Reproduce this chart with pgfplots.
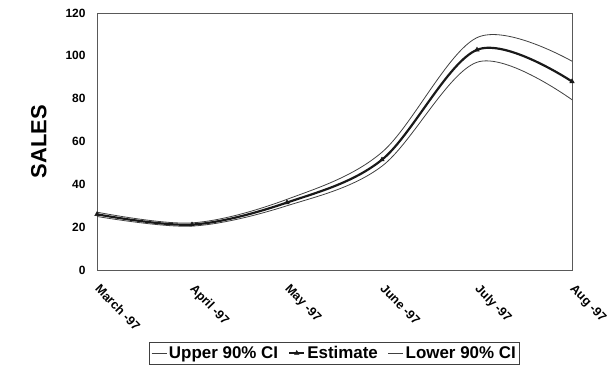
\documentclass[border=0pt]{standalone}
\usepackage{fontspec}
\setmainfont{Liberation Sans}
\usepackage{pgfplots}
\pgfplotsset{compat=1.18}
\begin{document}
\begin{tikzpicture}[x=1bp,y=1bp]
\begin{axis}[
  scale only axis,
  width=475bp, height=257bp,
  xmin=0, xmax=5, ymin=0, ymax=120,
  ytick={0,20,...,120},
  xtick={0,1,2,3,4,5},
  xticklabels={March -97,April -97,May -97,June -97,July -97,Aug -97},
  xticklabel style={xshift=4bp, yshift=-13bp, rotate=-46, anchor=north west, font=\bfseries\fontsize{12.5}{15}\selectfont, inner sep=0pt},
  yticklabel style={font=\bfseries\fontsize{12}{14}\selectfont, xshift=-8bp},
  /pgf/number format/assume math mode=true,
  major tick length=0pt,
  axis line style={black!65, line width=0.7pt},
  ylabel={\bfseries\fontsize{22}{24}\selectfont SALES},
  ylabel style={yshift=12bp},
  legend style={at={(0.5,-0.280)}, anchor=north, legend columns=3, draw=black!75, line width=0.7pt,
    font=\bfseries\fontsize{17}{19}\selectfont, inner sep=2pt,
    /tikz/every even column/.append style={column sep=8bp}},
  legend image code/.code={\draw[#1, mark repeat=2, mark phase=2] plot coordinates {(0bp,0bp) (7.5bp,0bp) (15bp,0bp)};},
]
\addplot[black!75, line width=0.8pt, smooth, tension=0.55] coordinates {(0,27) (1,22) (2,33) (3,55) (4,108.5) (5,97.5)};
\addlegendentry{Upper 90\% CI}
\addplot[black!90, line width=2.2pt, smooth, tension=0.55, mark=triangle*, mark size=2.6pt, mark options={solid, line width=0.5pt}] coordinates {(0,26) (1,21.2) (2,31.5) (3,51.5) (4,102.8) (5,88)};
\addlegendentry{Estimate}
\addplot[black!75, line width=0.8pt, smooth, tension=0.55] coordinates {(0,25) (1,20.5) (2,30) (3,48.5) (4,97) (5,79.5)};
\addlegendentry{Lower 90\% CI}
\end{axis}
\path (-97bp,-102bp) rectangle (514bp,270bp);
\end{tikzpicture}
\end{document}
